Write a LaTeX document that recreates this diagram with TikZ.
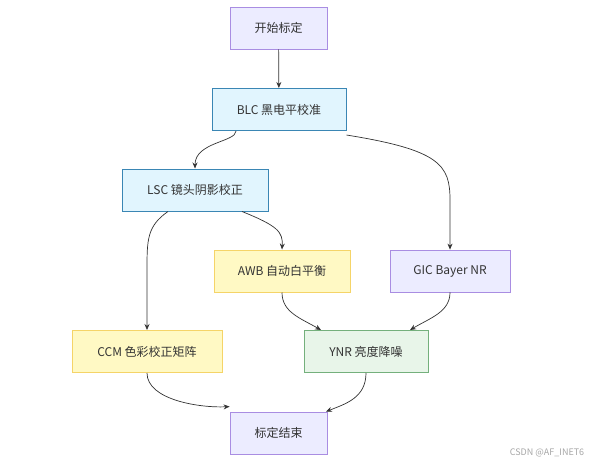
\documentclass[tikz,border=0pt]{standalone}
\usepackage{fontspec}
\setmainfont{Noto Sans CJK SC}
\usepackage{tikz}
\usepackage{xcolor}
\usetikzlibrary{positioning, calc, arrows.meta}

\definecolor{lilac}{HTML}{ECECFF}
\definecolor{lilacline}{HTML}{9370DB}
\definecolor{skyfill}{HTML}{E1F5FE}
\definecolor{skyline}{HTML}{3A86B4}
\definecolor{lemon}{HTML}{FFF9C4}
\definecolor{lemonline}{HTML}{F5D468}
\definecolor{mint}{HTML}{E8F5E9}
\definecolor{mintline}{HTML}{74B07C}
\definecolor{ink}{HTML}{333333}

\begin{document}
\begin{tikzpicture}[x=1pt,y=-1pt,
    font=\fontsize{12}{14}\selectfont,
    stage/.style={rectangle,draw,minimum height=42pt,text=ink,inner sep=0pt},
    purple/.style={stage,fill=lilac,draw=lilacline!80,line width=0.8pt},
    blue/.style={stage,fill=skyfill,draw=skyline,line width=1pt},
    yellow/.style={stage,fill=lemon,draw=lemonline,line width=1pt},
    green/.style={stage,fill=mint,draw=mintline,line width=1pt},
    flow/.style={draw=ink,line width=0.7pt,-{Stealth[length=6pt,width=5pt]}}]
        \useasboundingbox (0,0) rectangle (593,467);
        \node[purple,minimum width=97pt] (start) at (278.5,28) {开始标定};
        \node[blue,minimum width=134pt] (blc) at (279,109.5) {BLC 黑电平校准};
        \node[blue,minimum width=146pt] (lsc) at (195,190) {LSC 镜头阴影校正};
        \node[yellow,minimum width=136pt] (awb) at (282,271) {AWB 自动白平衡};
        \node[purple,minimum width=120pt] (gic) at (450,271) {GIC Bayer NR};
        \node[yellow,minimum width=150pt] (ccm) at (147,351.5) {CCM 色彩校正矩阵};
        \node[green,minimum width=124pt] (ynr) at (366,351.5) {YNR 亮度降噪};
        \node[purple,minimum width=97pt] (stop) at (278.5,433) {标定结束};
        \node[text=gray!70,font=\fontsize{9}{11}\selectfont] (mark) at (547,453) {CSDN @AF\_INET6};
        \draw[flow] (start) -- (blc);
        \draw[flow] (blc.south -| 236,0) .. controls (236,142) and (195,142) .. (lsc.north);
        \draw[flow] ([yshift=-4pt]blc.south east) .. controls (440,150) and (450,165) .. (450,200) -- (gic.north);
        \draw[flow] (lsc.south -| 168,0) .. controls (147,226) and (147,240) .. (147,270) -- (ccm.north -| 147,0);
        \draw[flow] (lsc.south -| 242,0) .. controls (278,226) and (283,232) .. (awb.north);
        \draw[flow] (awb.south) .. controls (282,312) and (300,318) .. (ynr.north -| 321,0);
        \draw[flow] (gic.south) .. controls (450,312) and (430,318) .. (ynr.north -| 410,0);
        \draw[flow] (ccm.south) .. controls (147,400) and (200,408) .. ([yshift=5pt]stop.north west);
        \draw[flow] (ynr.south) .. controls (366,398) and (345,404) .. (stop.north -| 326,0);
    \end{tikzpicture}
\end{document}
